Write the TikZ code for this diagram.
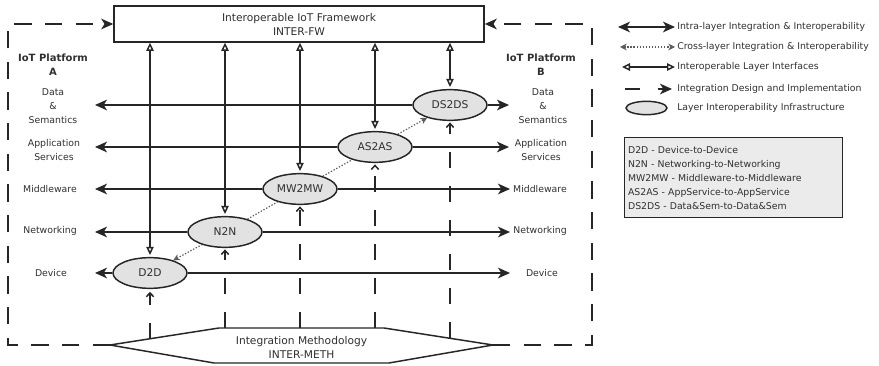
\documentclass[tikz,border=0pt]{standalone}
\usepackage{fontspec}
\setmainfont{DejaVu Sans}
\usetikzlibrary{arrows.meta,shapes.geometric}

\definecolor{ink}{HTML}{262626}
\definecolor{txt}{HTML}{303030}
\definecolor{cellfill}{HTML}{E2E2E2}
\definecolor{keyfill}{HTML}{EBEBEB}

\tikzset{
  headS/.tip={Stealth[length=9pt,width=8pt,inset=2.5pt]},
  headT/.tip={Triangle[open,length=6pt,width=5.5pt]},
  headB/.tip={Straight Barb[length=3pt,width=5.5pt]},
  headD/.tip={Stealth[open,length=5pt,width=5pt,inset=1.5pt]},
}

\begin{document}
\begin{tikzpicture}[x=0.75pt,y=-0.75pt,
  font=\fontsize{7}{10.5}\selectfont, text=txt,
  fwbox/.style={draw=ink, line width=1.2pt, fill=white, minimum width=277.5pt,
    minimum height=27pt, align=center, inner sep=0pt,
    font=\fontsize{8}{10.5}\selectfont},
  infra/.style={ellipse, draw=ink, line width=1.1pt, fill=cellfill,
    minimum width=55.5pt, minimum height=23pt, inner sep=0pt,
    font=\fontsize{8}{9}\selectfont},
  lbl/.style={align=center, inner sep=1pt},
  platform/.style={align=center, inner sep=1pt,
    font=\bfseries\fontsize{7.5}{10.5}\selectfont},
  intra/.style={draw=ink, line width=1.1pt},
  iface/.style={draw=ink, line width=1.1pt, headT-headT},
  cross/.style={draw=ink!75, line width=0.9pt, dash pattern=on 1pt off 1.3pt},
  impl/.style={draw=ink, line width=1.1pt, dash pattern=on 12pt off 13.5pt},
  loopline/.style={draw=ink, line width=1.3pt, dash pattern=on 13pt off 10pt},
  keytext/.style={anchor=west, inner sep=0pt},
]
\useasboundingbox (0,0) rectangle (879,366);

% framework box
\node[fwbox] (fw) at (299,24) {Interoperable IoT Framework\\INTER-FW};

% platform A labels
\node[platform] (pA) at (53,65) {IoT Platform\\A};
\node[lbl] (dsA) at (53,106) {Data\\\&\\Semantics};
\node[lbl] (asA) at (54,150) {Application\\Services};
\node[lbl] (mwA) at (50,189) {Middleware};
\node[lbl] (nwA) at (50,231) {Networking};
\node[lbl] (dvA) at (51,273) {Device};

% platform B labels
\node[platform] (pB) at (541,65) {IoT Platform\\B};
\node[lbl] (dsB) at (543,106) {Data\\\&\\Semantics};
\node[lbl] (asB) at (541,150) {Application\\Services};
\node[lbl] (mwB) at (540,189) {Middleware};
\node[lbl] (nwB) at (540,231) {Networking};
\node[lbl] (dvB) at (542,273) {Device};

% layer interoperability infrastructure
\node[infra] (d2d) at (150,273) {D2D};
\node[infra] (n2n) at (225,232) {N2N};
\node[infra] (mw)  at (300,189) {MW2MW};
\node[infra] (as)  at (375,147) {AS2AS};
\node[infra] (ds)  at (450,105) {DS2DS};

% ends of the intra-layer arrows
\coordinate (dsL) at (95,105);  \coordinate (dsR) at (509,105);
\coordinate (asL) at (95,147);  \coordinate (asR) at (509,147);
\coordinate (mwL) at (95,189);  \coordinate (mwR) at (510,189);
\coordinate (nwL) at (95,232);  \coordinate (nwR) at (510,232);
\coordinate (dvL) at (95,273);  \coordinate (dvR) at (510,273);

% intra-layer integration
\foreach \c/\e in {ds/ds,as/as,mw/mw,n2n/nw,d2d/dv}{
  \draw[intra,-headS] (\c) -- (\e L);
  \draw[intra,-headS] (\c) -- (\e R);
}

% interoperable layer interfaces
\foreach \c in {d2d,n2n,mw,as,ds}{
  \draw[iface, shorten >=1.5pt] (\c |- fw.south) -- (\c);
}

% cross-layer integration
\draw[cross, headD-] (d2d) -- (n2n);
\draw[cross] (n2n) -- (mw);
\draw[cross] (mw) -- (as);
\draw[cross, -headD] (as) -- (ds);

% integration methodology
\coordinate (hl)  at (110,345);
\coordinate (htl) at (219,328);
\coordinate (htr) at (384,328);
\coordinate (hr)  at (493,345);
\coordinate (hbr) at (389,363);
\coordinate (hbl) at (214,363);
\draw[draw=ink, line width=1.1pt, fill=white]
  (hl) -- (htl) -- (htr) -- (hr) -- (hbr) -- (hbl) -- cycle;
\node[align=center, inner sep=0pt, font=\fontsize{8}{10.5}\selectfont]
  (meth) at (301.5,347) {Integration Methodology\\INTER-METH};

% integration design and implementation
\coordinate (h1) at (150,338.8);
\coordinate (h2) at (225,328);
\coordinate (h3) at (300,328);
\coordinate (h4) at (375,328);
\coordinate (h5) at (450,338.3);
\draw[impl, -headB, shorten >=2pt] (h1) -- (d2d);
\draw[impl, -headB, shorten >=1pt] (h2) -- (n2n);
\draw[impl, -headB, shorten >=1pt] (h3) -- (mw);
\draw[impl, -headB, shorten >=1pt] (h4) -- (as);
\draw[impl, -headB, shorten >=1pt] (h5) -- (ds);

\coordinate (cBL) at (8,345);   \coordinate (cTL) at (8,24);
\coordinate (cBR) at (592,345); \coordinate (cTR) at (592,24);
\draw[loopline, -headS] (hl) -- (cBL) -- (cTL) -- (fw.west);
\draw[loopline, -headS] (hr) -- (cBR) -- (cTR) -- (fw.east);

% legend
\coordinate (k1a) at (618,27); \coordinate (k1b) at (675,27);
\coordinate (k2a) at (620,47); \coordinate (k2b) at (675,47);
\coordinate (k3a) at (622,67); \coordinate (k3b) at (675,67);
\coordinate (k4a) at (625,89); \coordinate (k4b) at (672,89);
\draw[intra, headS-headS] (k1a) -- (k1b);
\draw[cross, headD-headD] (k2a) -- (k2b);
\draw[iface] (k3a) -- (k3b);
\draw[draw=ink, line width=1.1pt, dash pattern=on 11pt off 13.5pt, -headS] (k4a) -- (k4b);
\node[ellipse, draw=ink, line width=1.1pt, fill=cellfill, minimum width=30.75pt,
  minimum height=10pt, inner sep=0pt] (k5) at (646.5,108) {};
\node[keytext] (t1) at (677,27) {Intra-layer Integration \& Interoperability};
\node[keytext] (t2) at (677,47) {Cross-layer Integration \& Interoperability};
\node[keytext] (t3) at (677,67) {Interoperable Layer Interfaces};
\node[keytext] (t4) at (677,89) {Integration Design and Implementation};
\node[keytext] (t5) at (677,108) {Layer Interoperability Infrastructure};

% abbreviations
\node[draw=ink, line width=1.1pt, fill=keyfill, anchor=north west,
  text width=158.5pt, inner xsep=2.5pt, minimum height=60pt, align=left]
  (key) at (624,137)
  {D2D - Device-to-Device\\
   N2N - Networking-to-Networking\\
   MW2MW - Middleware-to-Middleware\\
   AS2AS - AppService-to-AppService\\
   DS2DS - Data\&Sem-to-Data\&Sem};
\end{tikzpicture}
\end{document}
